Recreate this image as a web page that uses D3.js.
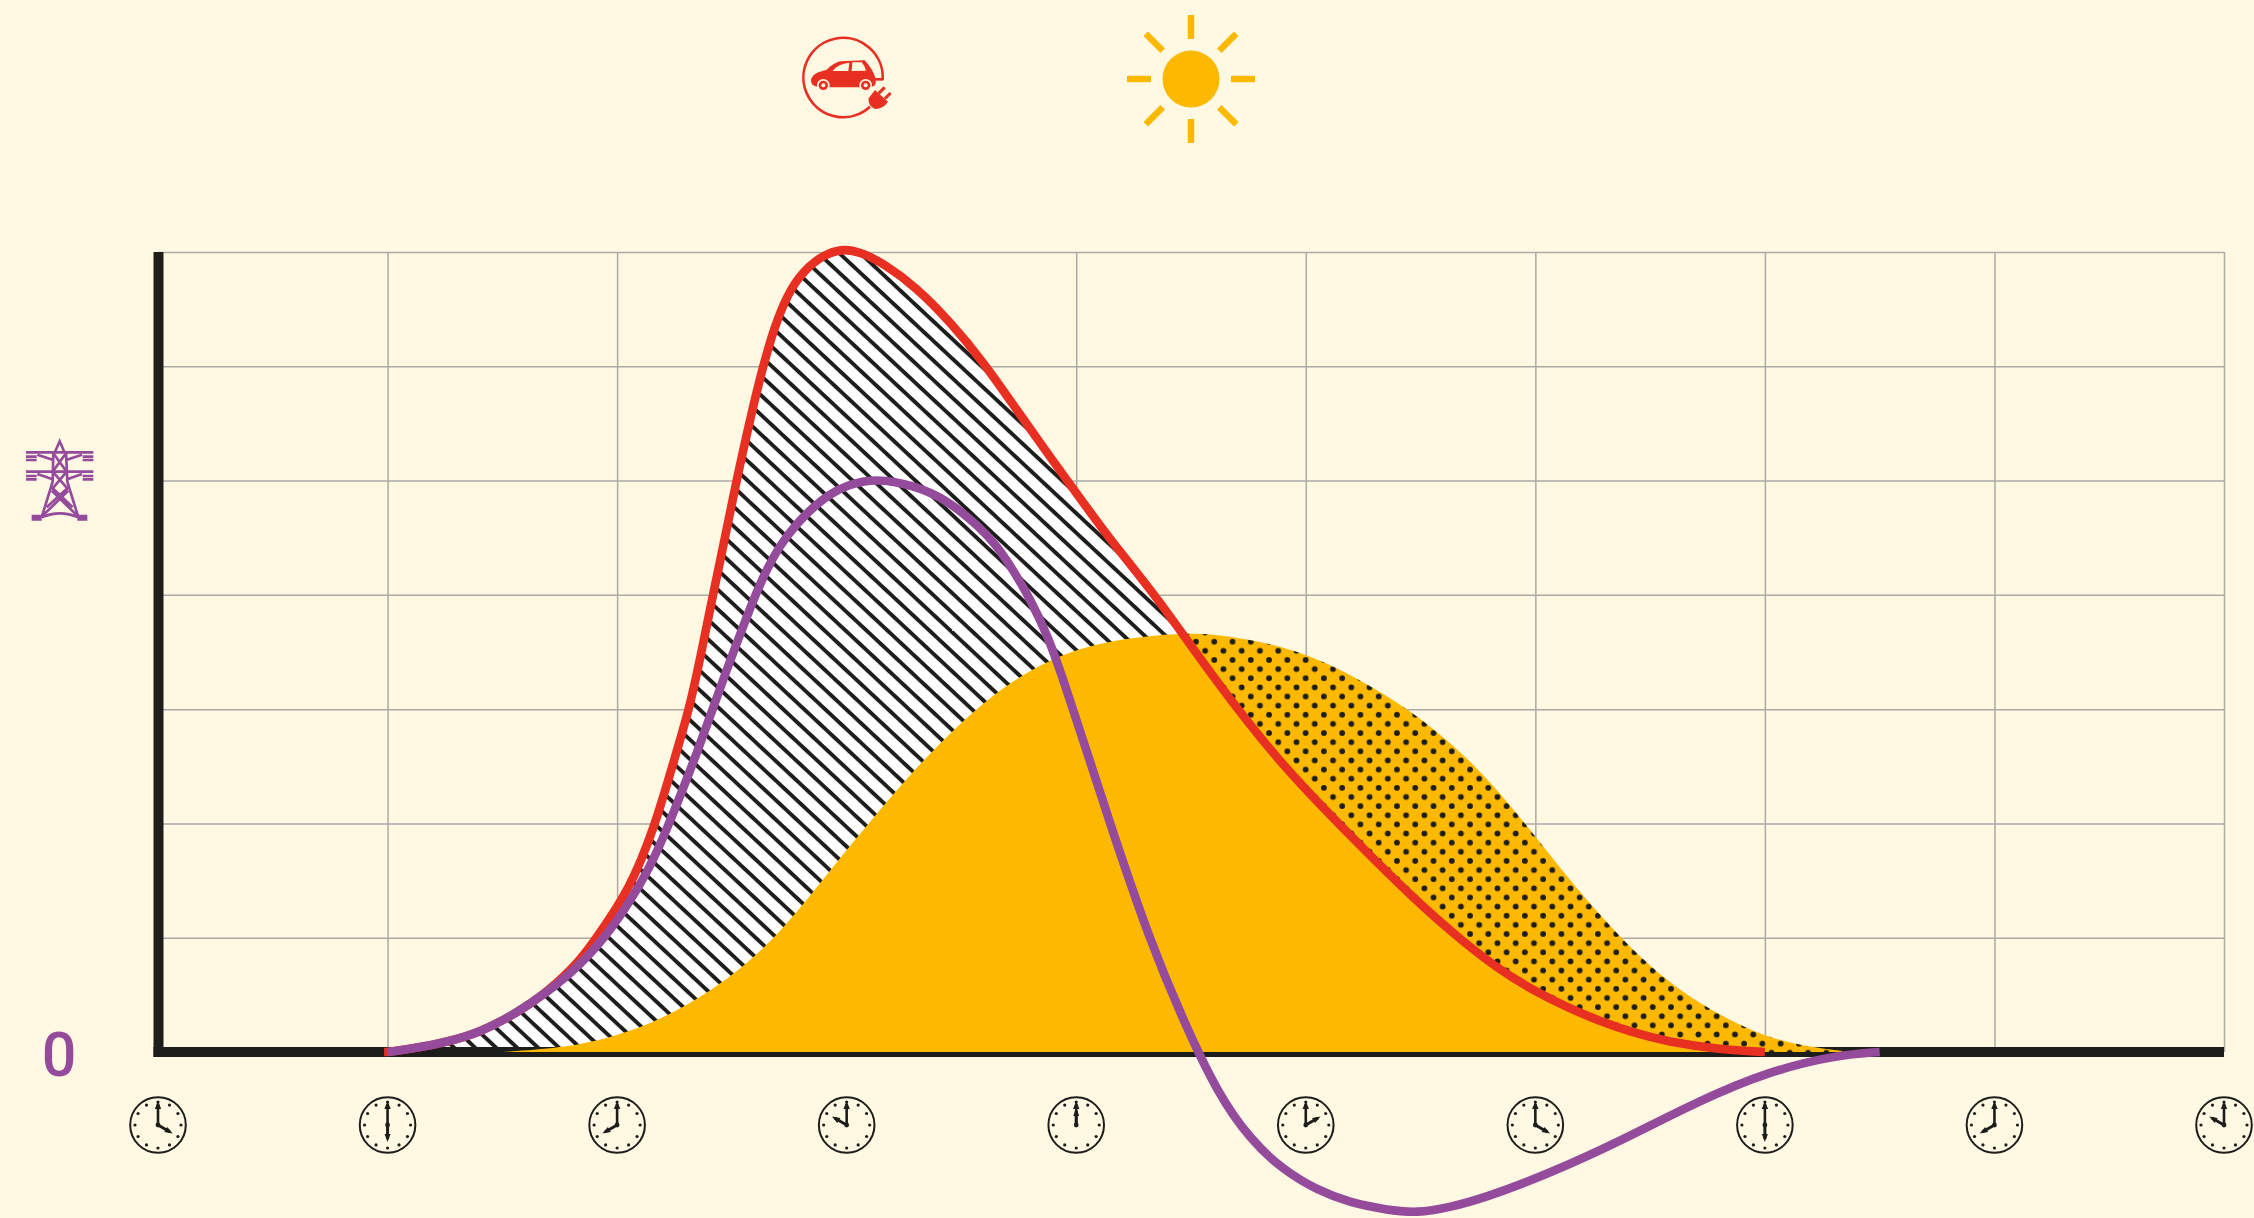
<!DOCTYPE html>
<html><head><meta charset="utf-8">
<script src="https://cdn.jsdelivr.net/npm/d3@7"></script>
<style>html,body{margin:0;padding:0;background:#fff8e3;overflow:hidden}svg{display:block}</style>
</head><body>
<svg id="chart" width="2254" height="1218"></svg>
<script>
const tickHours = [4,6,8,10,12,14,16,18,20,22];
const clockHours = [4,6,8,10,12,2,4,6,8,10];
const gridValues = [1,2,3,4,5,6,7];
const zeroLabel = "0";

const demandHours = [5.97,6,6.22,6.52,6.81,7.09,7.39,7.68,7.82,8.11,8.33,8.48,8.63,8.735,8.835,8.94,9.04,9.15,9.27,9.375,9.51,9.68,9.83,9.985,10.14,10.32,10.61,10.90,11.19,11.48,11.77,12.03,12.32,12.69,13.19,13.77,14.36,14.97,15.4,15.69,15.98,16.28,16.56,16.85,17.15,17.61,18];
const demandValues = [0,0,.03,.087,.175,.32,.52,.80,1.0,1.42,1.98,2.5,3.0,3.5,4.0,4.5,5.0,5.5,6.0,6.36,6.69,6.89,6.99,7.03,6.99,6.90,6.69,6.39,6.04,5.62,5.21,4.85,4.45,4.0,3.28,2.53,1.92,1.31,.94,.72,.54,.39,.27,.17,.09,.02,0];

const netHours = [6,6.22,6.52,6.81,7.09,7.39,7.68,7.97,8.26,8.40,8.55,8.70,8.84,8.96,9.13,9.27,9.42,9.57,9.71,9.85,10.0,10.25,10.58,10.88,11.16,11.3,11.45,11.6,11.75,11.9,12.03,12.32,12.64,12.93,13.23,13.52,13.80,14.10,14.39,14.7,14.97,15.25,15.55,16.13,16.74,17.44,18.02,18.60,19];
const netValues = [0,.03,.087,.175,.32,.52,.76,1.09,1.56,1.87,2.24,2.63,3.02,3.36,3.81,4.16,4.44,4.63,4.77,4.88,4.96,5.02,4.96,4.83,4.59,4.44,4.22,3.96,3.65,3.22,2.82,1.92,.98,.28,-.36,-.77,-1.03,-1.21,-1.32,-1.38,-1.41,-1.36,-1.28,-1.06,-.78,-.42,-.175,-.03,0];

const solarHours = [7.0,7.53,7.97,8.40,8.84,9.13,9.42,9.71,10.0,10.29,10.58,10.88,11.16,11.45,11.75,12.03,12.32,12.62,12.91,13.19,13.49,13.78,14.07,14.36,14.82,15.11,15.41,15.70,15.98,16.28,16.57,16.85,17.15,17.44,17.73,18.02,18.31,18.60,18.75];
const solarValues = [0,.035,.13,.29,.55,.77,1.05,1.40,1.77,2.12,2.46,2.77,3.03,3.25,3.42,3.53,3.60,3.64,3.66,3.66,3.61,3.55,3.45,3.32,3.05,2.83,2.57,2.26,1.91,1.53,1.19,.89,.62,.42,.26,.13,.06,.017,0];

const BG="#fff8e3", BLACK="#1d1d1b", YELLOW="#fdb900", RED="#e83022", PURPLE="#954b9b", GRID="#aaaaa6";

const svg = d3.select("#chart");
const x = d3.scaleLinear().domain([4,22]).range([158,2224]);
const y = d3.scaleLinear().domain([0,7]).range([1052,252]);
const zip = (h,v)=>h.map((d,i)=>[d,v[i]]);
const demand = zip(demandHours,demandValues), net = zip(netHours,netValues), solar = zip(solarHours,solarValues);
const curve = d3.curveBasis;
const line = d3.line().x(d=>x(d[0])).y(d=>y(d[1])).curve(curve);
const area = d3.area().x(d=>x(d[0])).y0(y(0)).y1(d=>y(d[1])).curve(curve);

svg.append("rect").attr("width",2254).attr("height",1218).attr("fill",BG);

const defs = svg.append("defs");
const hatch = defs.append("pattern").attr("id","hatch").attr("patternUnits","userSpaceOnUse")
  .attr("width",40).attr("height",14.3).attr("patternTransform","translate(0,250) rotate(43)");
hatch.append("rect").attr("width",40).attr("height",14.3).attr("fill","#fff");
hatch.append("rect").attr("y",0).attr("width",40).attr("height",3.9).attr("fill",BLACK);

const dots = defs.append("pattern").attr("id","dots").attr("patternUnits","userSpaceOnUse")
  .attr("x",1196).attr("y",641.7).attr("width",18.27).attr("height",18.27);
[[0,0],[9.135,9.135],[18.27,0],[0,18.27],[18.27,18.27]].forEach(p=>
  dots.append("circle").attr("cx",p[0]).attr("cy",p[1]).attr("r",2.9).attr("fill",BLACK));

defs.append("clipPath").attr("id","aboveDemand").append("path")
  .attr("d", d3.area().x(d=>x(d[0])).y0(200).y1(d=>y(d[1])).curve(curve)(demand)
     + `M${x(18)},200H2254V1100H${x(18)}Z`);

// grid
const gridX = svg.append("g").attr("transform",`translate(0,${y(0)})`)
  .call(d3.axisBottom(x).tickValues(tickHours).tickSize(-800).tickFormat(""));
gridX.select(".domain").remove();
gridX.selectAll("line").attr("stroke",GRID).attr("stroke-width",1.5);
const gridY = svg.append("g").attr("transform",`translate(${x(4)},0)`)
  .call(d3.axisRight(y).tickValues(gridValues).tickSize(x(22)-x(4)).tickFormat(""));
gridY.select(".domain").remove();
gridY.selectAll("line").attr("stroke",GRID).attr("stroke-width",1.5);

// hatched: demand above solar
svg.append("path").attr("d",area(demand)).attr("fill","url(#hatch)");

// axes
svg.append("rect").attr("x",153.5).attr("y",252).attr("width",10).attr("height",805).attr("fill",BLACK);
svg.append("rect").attr("x",153.5).attr("y",1047).attr("width",x(22)-153.5).attr("height",10).attr("fill",BLACK);

// solar + dots
svg.append("path").attr("d",area(solar)).attr("fill",YELLOW);
svg.append("path").attr("d",area(solar)).attr("fill","url(#dots)").attr("clip-path","url(#aboveDemand)");

// lines
svg.append("path").attr("d",line(demand)).attr("fill","none").attr("stroke",RED).attr("stroke-width",8.6);
svg.append("path").attr("d",line(net)).attr("fill","none").attr("stroke",PURPLE).attr("stroke-width",8.6);

// zero
svg.append("text").attr("x",59).attr("y",1076).attr("text-anchor","middle")
  .attr("font-family","Roboto").attr("font-weight",500).attr("font-size",61).attr("fill",PURPLE).text(zeroLabel);

// clocks
const hand = (g,angle,len,w,head)=>{
  const r = g.append("g").attr("transform",`rotate(${angle})`);
  r.append("line").attr("x1",0).attr("y1",0).attr("x2",0).attr("y2",-len+2).attr("stroke",BLACK).attr("stroke-width",w);
  r.append("path").attr("d",`M0,${-len-1}L${head},${-len+7}L${-head},${-len+7}Z`).attr("fill",BLACK);
};
tickHours.forEach((t,i)=>{
  const g = svg.append("g").attr("transform",`translate(${x(t)},1125)`);
  g.append("circle").attr("r",27.8).attr("fill","none").attr("stroke",BLACK).attr("stroke-width",2);
  d3.range(12).forEach(k=>{
    const a=k*Math.PI/6;
    g.append("circle").attr("cx",23*Math.sin(a)).attr("cy",-23*Math.cos(a)).attr("r",1.6).attr("fill",BLACK);
  });
  hand(g,0,23,2.6,3.2);
  hand(g,clockHours[i]*30,16,3,3);
  g.append("circle").attr("r",2.4).attr("fill",BLACK);
});

// sun icon
const sun = svg.append("g").attr("transform","translate(1191,79)");
sun.append("circle").attr("r",28.5).attr("fill",YELLOW);
d3.range(8).forEach(k=>{
  sun.append("rect").attr("x",-3.2).attr("y",-64).attr("width",6.4).attr("height",24)
    .attr("fill",YELLOW).attr("transform",`rotate(${k*45})`);
});

// car icon
const car = svg.append("g").attr("transform","translate(760,0) scale(0.33333)");
car.append("path").attr("d","M368,240 A119,119 0 1 0 330,320").attr("fill","none").attr("stroke",RED).attr("stroke-width",8);
car.append("path").attr("d","M340,238H370").attr("stroke",RED).attr("stroke-width",8);
car.append("path").attr("d","M153,240 Q156,225 175,217 L200,209 Q220,190 240,184 L314,181 Q337,205 347,235 L347,250 Q345,260 335,260 L300,262 L208,262 L175,260 Q153,260 153,240 Z").attr("fill",RED);
car.append("path").attr("d","M218,213 Q232,192 268,188 L265,213 Z").attr("fill",BG);
car.append("path").attr("d","M277,187 L305,187 Q315,198 318,212 L275,213 Z").attr("fill",BG);
[190,317].forEach(cx=>{
  car.append("circle").attr("cx",cx).attr("cy",256).attr("r",19).attr("fill",BG);
  car.append("circle").attr("cx",cx).attr("cy",256).attr("r",14).attr("fill",RED);
  car.append("circle").attr("cx",cx).attr("cy",256).attr("r",6).attr("fill",BG);
});
car.append("path").attr("d","M345,270 L384,305 Q370,327 345,327 Q323,317 326,295 Z").attr("fill",RED);
car.append("path").attr("d","M356,280 L374,262 M375,296 L392,279").attr("stroke",RED).attr("stroke-width",9).attr("fill","none");

// pylon icon
const py = svg.append("g").attr("transform","translate(0,420) scale(0.33333)").attr("fill","none").attr("stroke",PURPLE).attr("stroke-width",8);
py.append("path").attr("d","M165,96 L179,64 L193,96 M78,97H280 M78,110H110 M248,110H280 M78,120H110 M248,120H280 M78,155H280 M78,168H110 M248,168H280 M78,178H110 M248,178H280");
py.append("path").attr("d","M112,104 L160,120 M246,104 L198,120 M112,162 L158,178 M246,162 L202,178");
py.append("path").attr("d","M160,96 L158,185 L125,292 M198,96 L202,185 L235,292");
py.append("path").attr("d","M160,100 L200,155 L158,205 L218,262 M198,100 L158,155 L202,205 L140,262 M125,290 L205,212 M235,290 L155,212");
py.append("path").attr("d","M125,292 Q179,268 235,292");
py.append("path").attr("d","M95,293H125 M232,293H262").attr("stroke-width",18);
</script>
</body></html>
